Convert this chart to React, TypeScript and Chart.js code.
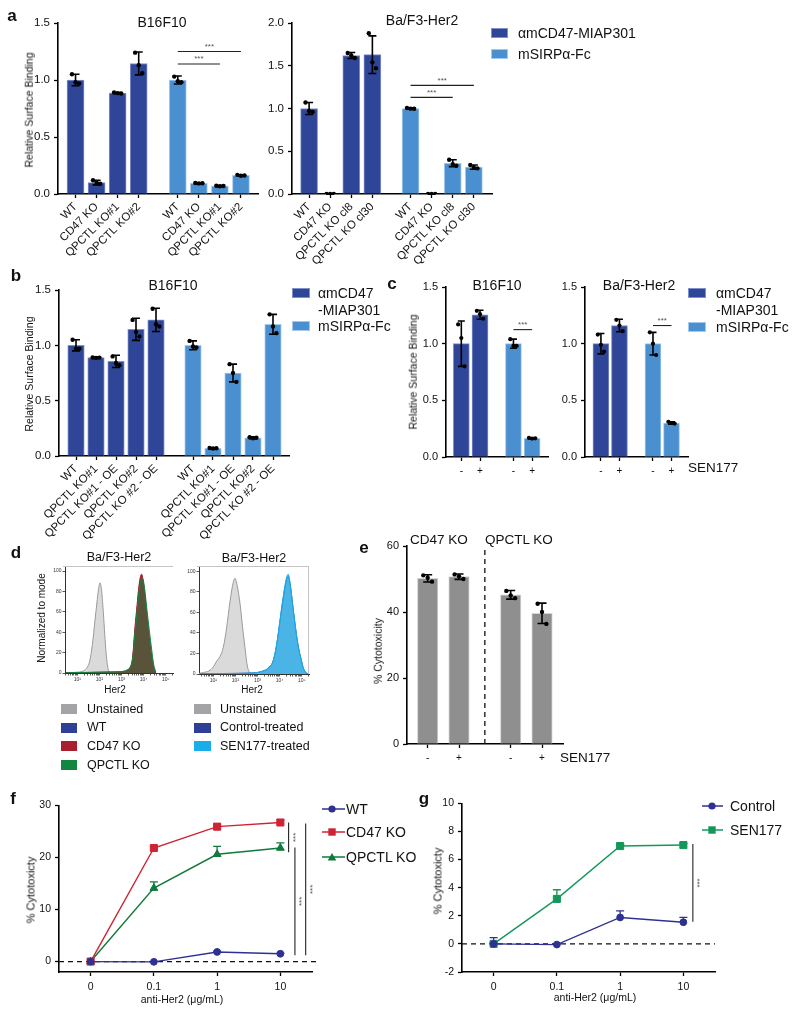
import React, { useEffect, useRef } from "react";
import { Chart, registerables } from "chart.js";

Chart.register(...registerables);

const FONT = "'Liberation Sans', Arial, Helvetica, sans-serif";
Chart.defaults.font.family = FONT;
Chart.defaults.color = "#111";

/* ---------------- colours ---------------- */
const NAVY = "#2f4597";
const NAVY_EDGE = "#7f90cc";
const SKY = "#4a8fd0";
const SKY_EDGE = "#a3c9ee";
const GREY_BAR = "#8f8f8f";
const GREY_EDGE = "#d4d4d4";
const L_BLUE = "#2e3192";
const L_RED = "#cf2436";
const L_GREEN = "#0f7a3c";
const L_GREEN2 = "#14985a";
const F_GREY_LINE = "#9a9a9c";
const F_GREY_FILL = "#dadadb";
const F_BLUE = "#2e3f96";
const F_RED = "#a8202d";
const F_GREEN = "#128540";
const F_CYAN = "#19aeea";

/* ---------------- panel a data ---------------- */
const aB16Labels = ["WT", "CD47 KO", "QPCTL KO#1", "QPCTL KO#2"];
const aB16Miap = [1.0, 0.1, 0.885, 1.145];
const aB16MiapErr = [0.05, 0.02, 0.004, 0.1];
const aB16MiapPts = [[1.05, 0.98, 0.97], [0.12, 0.1, 0.09], [0.89, 0.885, 0.882], [1.24, 1.13, 1.06]];
const aB16Sirp = [1.0, 0.094, 0.07, 0.163];
const aB16SirpErr = [0.035, 0.004, 0.004, 0.006];
const aB16SirpPts = [[1.03, 0.99, 0.98], [0.096, 0.093, 0.094], [0.072, 0.068, 0.07], [0.168, 0.16, 0.162]];
const aB16Sig = [{ from: 4, to: 7, y: 1.25 }, { from: 4, to: 6, y: 1.14 }];

const aBaLabels = ["WT", "CD47 KO", "QPCTL KO cl8", "QPCTL KO cl30"];
const aBaMiap = [1.0, 0.0, 1.62, 1.63];
const aBaMiapErr = [0.07, 0.003, 0.035, 0.22];
const aBaMiapPts = [[1.07, 0.97, 0.96], [0, 0, 0], [1.65, 1.62, 1.59], [1.88, 1.54, 1.47]];
const aBaSirp = [1.0, 0.0, 0.36, 0.315];
const aBaSirpErr = [0.008, 0.003, 0.04, 0.025];
const aBaSirpPts = [[1.005, 0.998, 0.997], [0, 0, 0], [0.4, 0.35, 0.33], [0.34, 0.31, 0.3]];
const aBaSig = [{ from: 4, to: 7, y: 1.27 }, { from: 4, to: 6, y: 1.13 }];

/* ---------------- panel b data ---------------- */
const bLabels = ["WT", "QPCTL KO#1", "QPCTL KO#1 - OE", "QPCTL KO#2", "QPCTL KO #2 - OE"];
const bMiap = [1.0, 0.89, 0.855, 1.145, 1.23];
const bMiapErr = [0.05, 0.004, 0.055, 0.1, 0.105];
const bMiapPts = [[1.05, 0.97, 0.97], [0.89, 0.886, 0.889], [0.9, 0.84, 0.82], [1.23, 1.12, 1.08], [1.33, 1.19, 1.17]];
const bSirp = [1.0, 0.07, 0.75, 0.165, 1.19];
const bSirpErr = [0.04, 0.004, 0.08, 0.008, 0.09];
const bSirpPts = [[1.04, 0.99, 0.98], [0.072, 0.068, 0.07], [0.83, 0.75, 0.67], [0.17, 0.16, 0.165], [1.28, 1.17, 1.11]];

/* ---------------- panel c data ---------------- */
const cTreat = ["-", "+", "-", "+"];
const cB16Miap = [1.0, 1.255];
const cB16MiapErr = [0.2, 0.04];
const cB16MiapPts = [[1.17, 1.05, 0.8], [1.29, 1.26, 1.22]];
const cB16Sirp = [1.0, 0.165];
const cB16SirpErr = [0.04, 0.005];
const cB16SirpPts = [[1.04, 0.98, 0.98], [0.168, 0.163, 0.165]];
const cB16Sig = [{ from: 2, to: 3, y: 1.124 }];
const cBaMiap = [1.0, 1.16];
const cBaMiapErr = [0.09, 0.055];
const cBaMiapPts = [[1.08, 0.99, 0.93], [1.21, 1.16, 1.11]];
const cBaSirp = [1.0, 0.3];
const cBaSirpErr = [0.1, 0.01];
const cBaSirpPts = [[1.1, 1.0, 0.9], [0.31, 0.3, 0.295]];
const cBaSig = [{ from: 2, to: 3, y: 1.16 }];

/* ---------------- panel d data (flow histograms, x = log10 Her2) ---------------- */
const dUnst1X = [0.5, 1.0, 1.2, 1.35, 1.46, 1.57, 1.68, 1.8, 1.9, 1.97, 2.03, 2.1, 2.18, 2.24, 2.3, 2.36, 2.42, 2.55];
const dUnst1Y = [0.3, 0.8, 1.5, 3, 6, 12.7, 28, 52, 72, 84, 88.5, 80, 58, 38, 19.6, 8, 2, 0];
const dKOX = [0.5, 1.5, 2.5, 3.0, 3.25, 3.38, 3.5, 3.61, 3.7, 3.78, 3.86, 3.91, 3.97, 4.05, 4.14, 4.25, 4.37, 4.45, 4.55];
const dWT = [0.3, 0.5, 0.8, 1.2, 2.5, 5, 14, 42, 62, 80, 92, 94, 90, 78, 58, 36, 16, 6, 0];
const dCD47 = [0.3, 0.5, 0.8, 1.2, 2.5, 5, 15, 45, 66, 84, 95, 97, 92, 78, 57, 34, 14, 5, 0];
const dQPCTL = [0.3, 0.6, 1.0, 1.5, 3, 5.5, 13, 40, 60, 78, 89, 93, 92, 82, 64, 43, 22, 9, 1];
const dUnst2X = [0.35, 0.55, 0.8, 1.0, 1.15, 1.3, 1.45, 1.6, 1.75, 1.9, 1.98, 2.08, 2.21, 2.32, 2.43, 2.52, 2.6, 2.75];
const dUnst2Y = [0.5, 1.5, 3, 7, 12.5, 17, 26, 45, 70, 89, 93, 86, 68, 46, 26, 10, 3, 0];
const dTrtX = [0.4, 1.5, 2.5, 3.0, 3.26, 3.5, 3.71, 3.88, 4.02, 4.14, 4.24, 4.33, 4.39, 4.47, 4.62, 4.75, 4.85, 5.0, 5.07, 5.2, 5.3];
const dCtrl = [0.3, 0.5, 0.8, 1.5, 3, 6, 13, 30, 52, 70, 84, 93, 95, 88, 62, 40, 26, 12, 6, 1, 0];
const dSEN = [0.3, 0.5, 0.8, 1.5, 3, 6, 13, 31, 53, 72, 86, 95, 97, 89, 62, 40, 26, 12, 6, 1, 0];
const dDecadeLabels = ["10¹", "10²", "10³", "10⁴", "10⁵"];

/* ---------------- panel e data ---------------- */
const eTreat = ["-", "+", "-", "+"];
const eCD47 = [50.2, 50.7];
const eCD47Err = [1.1, 0.8];
const eCD47Pts = [[51.1, 50.4, 49.2], [51.4, 50.8, 50.0]];
const eQPCTL = [45.2, 39.6];
const eQPCTLErr = [1.3, 3.1];
const eQPCTLPts = [[46.4, 45.0, 44.2], [42.5, 40.0, 36.4]];

/* ---------------- panel f / g data ---------------- */
const doseLabels = ["0", "0.1", "1", "10"];
const fWT = [0, -0.05, 1.85, 1.5];
const fWTErr = [0, 0, 0.15, 0.12];
const fCD47 = [0, 21.8, 25.9, 26.7];
const fCD47Err = [0, 0.25, 0.3, 0.5];
const fQPCTL = [0, 14.1, 20.6, 21.8];
const fQPCTLErr = [0, 1.2, 1.5, 1.0];
const fYTicks = [0, 10, 20, 30];
const gControl = [0, -0.05, 1.88, 1.54];
const gControlErr = [0.45, 0.05, 0.47, 0.34];
const gSEN = [0, 3.2, 6.96, 7.03];
const gSENErr = [0.08, 0.65, 0.1, 0.12];
const gYTicks = [-2, 0, 2, 4, 6, 8, 10];

/* ---------------- annotation plugin (error bars, significance, dashed lines) ---------------- */
function annot(a: any) {
  const valAt = (chart: any, ds: number, i: number) => {
    const d = chart.data.datasets[ds].data[i];
    return typeof d === "number" ? d : d.y;
  };
  const drawErr = (chart: any, e: any) => {
    const meta = chart.getDatasetMeta(e.ds);
    const ys = chart.scales.y;
    const ctx = chart.ctx;
    ctx.save();
    ctx.strokeStyle = e.color;
    ctx.lineWidth = e.lw;
    meta.data.forEach((el: any, i: number) => {
      const d = e.err[i];
      if (!d) return;
      const v = valAt(chart, e.ds, i);
      const x = el.x;
      const yt = ys.getPixelForValue(v + d);
      const yb = ys.getPixelForValue(e.up ? v : v - d);
      ctx.beginPath();
      ctx.moveTo(x, yt);
      ctx.lineTo(x, yb);
      ctx.moveTo(x - e.cap, yt);
      ctx.lineTo(x + e.cap, yt);
      if (!e.up) {
        ctx.moveTo(x - e.cap, yb);
        ctx.lineTo(x + e.cap, yb);
      }
      ctx.stroke();
    });
    ctx.restore();
  };
  return {
    id: "annot",
    beforeDatasetsDraw(chart: any) {
      const { ctx, chartArea: ca, scales } = chart;
      ctx.save();
      if (a.zero) {
        const py = scales.y.getPixelForValue(0);
        ctx.strokeStyle = "#111";
        ctx.lineWidth = 1.4;
        ctx.setLineDash([5, 4]);
        ctx.beginPath();
        ctx.moveTo(ca.left, py);
        ctx.lineTo(ca.right + a.zero.extend, py);
        ctx.stroke();
      }
      if (a.vdash !== undefined) {
        const px = scales.x.getPixelForValue(a.vdash);
        ctx.strokeStyle = "#111";
        ctx.lineWidth = 1.3;
        ctx.setLineDash([5, 4]);
        ctx.beginPath();
        ctx.moveTo(px, scales.y.getPixelForValue(0));
        ctx.lineTo(px, ca.top + 1);
        ctx.stroke();
      }
      ctx.restore();
      (a.errs || []).filter((e: any) => e.under).forEach((e: any) => drawErr(chart, e));
    },
    afterDatasetDraw(chart: any, args: any) {
      (a.errs || []).filter((e: any) => !e.under && e.ds === args.index).forEach((e: any) => drawErr(chart, e));
    },
    afterDraw(chart: any) {
      const { ctx, chartArea: ca, scales } = chart;
      const x = scales.x;
      const y = scales.y;
      ctx.save();
      (a.hsig || []).forEach((q: any) => {
        const p1 = x.getPixelForValue(q.x1);
        const p2 = x.getPixelForValue(q.x2);
        const py = y.getPixelForValue(q.y);
        ctx.strokeStyle = "#222";
        ctx.lineWidth = 1.1;
        ctx.beginPath();
        ctx.moveTo(p1, py);
        ctx.lineTo(p2, py);
        ctx.stroke();
        ctx.fillStyle = "#555";
        ctx.font = `8px ${FONT}`;
        ctx.textAlign = "center";
        ctx.textBaseline = "bottom";
        ctx.fillText(q.label, (p1 + p2) / 2, py - 1);
      });
      (a.vsig || []).forEach((q: any) => {
        const px = x.getPixelForValue(q.x);
        const p1 = y.getPixelForValue(q.y1);
        const p2 = y.getPixelForValue(q.y2);
        ctx.strokeStyle = "#222";
        ctx.lineWidth = 1.1;
        ctx.beginPath();
        ctx.moveTo(px, p1);
        ctx.lineTo(px, p2);
        ctx.stroke();
        ctx.save();
        ctx.translate(px + 6, (p1 + p2) / 2);
        ctx.rotate(-Math.PI / 2);
        ctx.fillStyle = "#555";
        ctx.font = `8px ${FONT}`;
        ctx.textAlign = "center";
        ctx.textBaseline = "middle";
        ctx.fillText(q.label, 0, 1);
        ctx.restore();
      });
      if (a.frame) {
        ctx.strokeStyle = a.frame.color;
        ctx.lineWidth = 1;
        ctx.beginPath();
        if (a.frame.sides.includes("top")) {
          ctx.moveTo(ca.left - 2, ca.top + 0.5);
          ctx.lineTo(ca.right, ca.top + 0.5);
        }
        if (a.frame.sides.includes("right")) {
          ctx.moveTo(ca.right - 0.5, ca.top);
          ctx.lineTo(ca.right - 0.5, ca.bottom);
        }
        ctx.stroke();
      }
      ctx.restore();
    },
  };
}

/* ---------------- shared axis styling ---------------- */
function axis(font: number, pad: number, tickLen = 4) {
  return {
    grid: { display: true, drawOnChartArea: false, drawTicks: true, tickLength: tickLen, tickWidth: 1.3, tickColor: "#000", color: "#000", offset: false },
    border: { display: true, color: "#000", width: 1.6 },
    ticks: { font: { size: font }, padding: pad, color: "#111", autoSkip: false },
  };
}

/* ---------------- bar chart config ---------------- */
function barConfig(s: any) {
  const groupXs: number[][] = [];
  const pos: number[] = [];
  let start = 0;
  s.groups.forEach((g: any, gi: number) => {
    if (gi > 0) start = pos[pos.length - 1] + s.groupStep;
    const xs = g.values.map((_: number, i: number) => start + i);
    groupXs.push(xs);
    pos.push(...xs);
  });
  const dots: any[] = [];
  s.groups.forEach((g: any, gi: number) =>
    g.pts.forEach((arr: number[], i: number) =>
      arr.forEach((v, k) => dots.push({ x: groupXs[gi][i] + (k - (arr.length - 1) / 2) * s.jitter, y: v }))
    )
  );
  const datasets: any[] = [
    { type: "scatter", label: "replicates", data: dots, pointRadius: s.dotR, pointBackgroundColor: "#000", pointBorderColor: "#000", pointBorderWidth: 0, order: 1 },
  ];
  const errs: any[] = [];
  s.groups.forEach((g: any, gi: number) => {
    datasets.push({
      type: "bar",
      label: g.label,
      data: g.values.map((v: number, i: number) => ({ x: groupXs[gi][i], y: v })),
      backgroundColor: g.fill,
      borderColor: g.edge,
      borderWidth: 1,
      borderSkipped: "bottom",
      barThickness: s.barW,
      grouped: false,
      order: 2,
    });
    errs.push({ ds: datasets.length - 1, err: g.err, cap: s.cap, lw: 1.6, color: "#000" });
  });
  const hsig = (s.sig || []).map((q: any) => ({ x1: pos[q.from], x2: pos[q.to], y: q.y, label: "***" }));
  const vdash = s.divider ? (groupXs[0][groupXs[0].length - 1] + groupXs[1][0]) / 2 : undefined;
  const yTicks: number[] = [];
  for (let v = 0; v <= s.ymax + 1e-9; v += s.ystep) yTicks.push(v);
  const ax = axis(s.xFont, s.xPad);
  const ay = axis(s.yFont, 4);
  return {
    type: "bar",
    data: { datasets },
    options: {
      scales: {
        x: {
          type: "linear",
          offset: false,
          min: s.xmin,
          max: s.xmax,
          afterBuildTicks: (sc: any) => {
            sc.ticks = pos.map((v) => ({ value: v }));
          },
          ...ax,
          ticks: { ...ax.ticks, maxRotation: s.rot, minRotation: s.rot, callback: (_v: any, i: number) => s.tickLabels[i] },
        },
        y: {
          type: "linear",
          min: 0,
          max: s.ymax,
          afterBuildTicks: (sc: any) => {
            sc.ticks = yTicks.map((v) => ({ value: v }));
          },
          ...ay,
          ticks: { ...ay.ticks, callback: (v: any) => Number(v).toFixed(s.dec) },
        },
      },
    },
    plugins: [annot({ errs, hsig, vdash })],
  };
}

/* ---------------- line chart config ---------------- */
function lineConfig(series: any[], yMin: number, yMax: number, yTicks: number[], vsig: any[], zeroExtend: number) {
  const datasets = series.map((s, i) => ({
    label: s.label,
    data: s.values,
    borderColor: s.color,
    backgroundColor: s.color,
    pointBackgroundColor: s.color,
    pointBorderColor: s.color,
    pointStyle: s.shape,
    pointRadius: s.r,
    pointBorderWidth: 1,
    borderWidth: 1.4,
    tension: 0,
    order: i,
  }));
  const errs = series.map((s, i) => ({ ds: i, err: s.err, up: true, cap: 4, lw: 1.3, color: s.color, under: true }));
  const ax = axis(10.5, 5, 4);
  const ay = axis(10.5, 4, 4);
  return {
    type: "line",
    data: { labels: doseLabels, datasets },
    options: {
      scales: {
        x: { type: "category", offset: true, ...ax, ticks: { ...ax.ticks, maxRotation: 0 } },
        y: {
          type: "linear",
          min: yMin,
          max: yMax,
          afterBuildTicks: (sc: any) => {
            sc.ticks = yTicks.map((v) => ({ value: v }));
          },
          ...ay,
        },
      },
    },
    plugins: [annot({ errs, vsig, zero: { extend: zeroExtend } })],
  };
}

/* ---------------- flow histogram config ---------------- */
function flowConfig(curves: any[], xmin: number, xmax: number, sides: string[]) {
  const tks: number[] = [];
  for (let d = 0; d <= 5; d++)
    for (let k = 1; k <= 9; k++) {
      const v = d + Math.log10(k);
      if (v >= xmin && v <= xmax) tks.push(v);
    }
  const isMajor = (v: number) => Math.abs(v - Math.round(v)) < 1e-6 && Math.round(v) >= 1;
  return {
    type: "line",
    data: {
      datasets: curves.map((c) => ({
        label: c.label,
        data: c.x.map((xv: number, i: number) => ({ x: xv, y: c.y[i] })),
        borderColor: c.line,
        backgroundColor: c.fill,
        fill: "origin",
        pointRadius: 0,
        borderWidth: 1,
        cubicInterpolationMode: "monotone",
        order: c.order,
      })),
    },
    options: {
      scales: {
        x: {
          type: "linear",
          min: xmin,
          max: xmax,
          afterBuildTicks: (sc: any) => {
            sc.ticks = tks.map((v) => ({ value: v }));
          },
          grid: { display: true, drawOnChartArea: false, tickLength: 2.5, tickWidth: 0.8, tickColor: "#333", offset: false },
          border: { display: true, color: "#333", width: 1 },
          ticks: { autoSkip: false, maxRotation: 0, font: { size: 5 }, padding: 1, color: "#333", callback: (v: any) => (isMajor(v) ? dDecadeLabels[Math.round(v) - 1] : "") },
        },
        y: {
          type: "linear",
          min: 0,
          max: 105,
          afterBuildTicks: (sc: any) => {
            sc.ticks = [0, 20, 40, 60, 80, 100].map((v) => ({ value: v }));
          },
          grid: { display: true, drawOnChartArea: false, tickLength: 2.5, tickWidth: 0.8, tickColor: "#333" },
          border: { display: true, color: "#333", width: 1 },
          ticks: { font: { size: 5 }, padding: 1, color: "#333" },
        },
      },
    },
    plugins: [annot({ frame: { sides, color: "#c4c4c4" } })],
  };
}

/* ---------------- chart host ---------------- */
function ChartBox({ area, m, make }: { area: number[]; m: number[]; make: () => any }) {
  const [x0, y0, x1, y1] = area;
  const [l, t, r, b] = m;
  const w = x1 - x0 + l + r;
  const h = y1 - y0 + t + b;
  const ref = useRef<HTMLCanvasElement | null>(null);
  useEffect(() => {
    const cfg = make();
    const o = cfg.options;
    o.responsive = false;
    o.animation = false;
    o.devicePixelRatio = 1;
    o.events = [];
    o.layout = { padding: { left: 0, top: t, right: r, bottom: 0 } };
    o.scales.x.afterFit = (s: any) => {
      s.height = b;
    };
    o.scales.y.afterFit = (s: any) => {
      s.width = l;
    };
    o.plugins = { legend: { display: false }, tooltip: { enabled: false } };
    const chart = new Chart(ref.current as HTMLCanvasElement, cfg);
    return () => chart.destroy();
  }, []);
  return <canvas ref={ref} width={w} height={h} style={{ position: "absolute", left: x0 - l, top: y0 - t, width: w, height: h }} />;
}

/* ---------------- text helpers ---------------- */
function T({ x, y, s, size = 13, bold = false, align = "left", rot = 0, color = "#111" }: any) {
  const tx = align === "center" ? "-50%" : align === "right" ? "-100%" : "0";
  return (
    <div
      style={{
        position: "absolute",
        left: x,
        top: y,
        transform: `translate(${tx}, -50%) rotate(${rot}deg)`,
        fontSize: size,
        fontWeight: bold ? 700 : 400,
        lineHeight: 1,
        whiteSpace: "nowrap",
        color,
        fontFamily: FONT,
      }}
    >
      {s}
    </div>
  );
}
function Sq({ x, y, w, h, c, e }: any) {
  return <div style={{ position: "absolute", left: x, top: y, width: w, height: h, background: c, boxSizing: "border-box", border: e ? `1px solid ${e}` : "none" }} />;
}
function LineKey({ x1, x2, mx, y, color, shape, label, tx, size = 14 }: any) {
  const c = mx - x1;
  return (
    <>
      <svg style={{ position: "absolute", left: x1, top: y - 6, overflow: "visible" }} width={x2 - x1} height={12}>
        <line x1={0} y1={6} x2={x2 - x1} y2={6} stroke={color} strokeWidth={1.5} />
        {shape === "circle" && <circle cx={c} cy={6} r={3.6} fill={color} />}
        {shape === "square" && <rect x={c - 3.7} y={2.3} width={7.4} height={7.4} fill={color} />}
        {shape === "triangle" && <polygon points={`${c - 4.3},9.6 ${c + 4.3},9.6 ${c},2`} fill={color} />}
      </svg>
      <T x={tx} y={y} s={label} size={size} />
    </>
  );
}

/* ---------------- chart factories ---------------- */
const makeAB16 = () =>
  barConfig({
    groups: [
      { label: "αmCD47-MIAP301", values: aB16Miap, err: aB16MiapErr, pts: aB16MiapPts, fill: NAVY, edge: NAVY_EDGE },
      { label: "mSIRPα-Fc", values: aB16Sirp, err: aB16SirpErr, pts: aB16SirpPts, fill: SKY, edge: SKY_EDGE },
    ],
    tickLabels: [...aB16Labels, ...aB16Labels],
    groupStep: 1.857, xmin: -0.833, xmax: 8.667, ymax: 1.5, ystep: 0.5, dec: 1,
    barW: 17, cap: 4, jitter: 0.17, dotR: 2.2, rot: 45, xFont: 11.5, yFont: 11.5, xPad: 2, sig: aB16Sig,
  });
const makeABa = () =>
  barConfig({
    groups: [
      { label: "αmCD47-MIAP301", values: aBaMiap, err: aBaMiapErr, pts: aBaMiapPts, fill: NAVY, edge: NAVY_EDGE },
      { label: "mSIRPα-Fc", values: aBaSirp, err: aBaSirpErr, pts: aBaSirpPts, fill: SKY, edge: SKY_EDGE },
    ],
    tickLabels: [...aBaLabels, ...aBaLabels],
    groupStep: 1.81, xmin: -0.81, xmax: 8.67, ymax: 2.0, ystep: 0.5, dec: 1,
    barW: 17, cap: 4, jitter: 0.17, dotR: 2.2, rot: 45, xFont: 11.5, yFont: 11.5, xPad: 2, sig: aBaSig,
  });
const makeB = () =>
  barConfig({
    groups: [
      { label: "αmCD47-MIAP301", values: bMiap, err: bMiapErr, pts: bMiapPts, fill: NAVY, edge: NAVY_EDGE },
      { label: "mSIRPα-Fc", values: bSirp, err: bSirpErr, pts: bSirpPts, fill: SKY, edge: SKY_EDGE },
    ],
    tickLabels: [...bLabels, ...bLabels],
    groupStep: 1.85, xmin: -0.85, xmax: 10.65, ymax: 1.5, ystep: 0.5, dec: 1,
    barW: 16.5, cap: 4, jitter: 0.17, dotR: 2.2, rot: 45, xFont: 11.5, yFont: 11.5, xPad: 2, sig: [],
  });
const makeCB16 = () =>
  barConfig({
    groups: [
      { label: "αmCD47-MIAP301", values: cB16Miap, err: cB16MiapErr, pts: cB16MiapPts, fill: NAVY, edge: NAVY_EDGE },
      { label: "mSIRPα-Fc", values: cB16Sirp, err: cB16SirpErr, pts: cB16SirpPts, fill: SKY, edge: SKY_EDGE },
    ],
    tickLabels: cTreat,
    groupStep: 1.79, xmin: -0.82, xmax: 4.64, ymax: 1.5, ystep: 0.5, dec: 1,
    barW: 16, cap: 3.5, jitter: 0.17, dotR: 2.1, rot: 0, xFont: 10, yFont: 11, xPad: 4, sig: cB16Sig,
  });
const makeCBa = () =>
  barConfig({
    groups: [
      { label: "αmCD47-MIAP301", values: cBaMiap, err: cBaMiapErr, pts: cBaMiapPts, fill: NAVY, edge: NAVY_EDGE },
      { label: "mSIRPα-Fc", values: cBaSirp, err: cBaSirpErr, pts: cBaSirpPts, fill: SKY, edge: SKY_EDGE },
    ],
    tickLabels: cTreat,
    groupStep: 1.81, xmin: -0.86, xmax: 4.7, ymax: 1.5, ystep: 0.5, dec: 1,
    barW: 16, cap: 3.5, jitter: 0.17, dotR: 2.1, rot: 0, xFont: 10, yFont: 11, xPad: 4, sig: cBaSig,
  });
const makeE = () =>
  barConfig({
    groups: [
      { label: "CD47 KO", values: eCD47, err: eCD47Err, pts: eCD47Pts, fill: GREY_BAR, edge: GREY_EDGE },
      { label: "QPCTL KO", values: eQPCTL, err: eQPCTLErr, pts: eQPCTLPts, fill: GREY_BAR, edge: GREY_EDGE },
    ],
    tickLabels: eTreat,
    groupStep: 1.65, xmin: -0.66, xmax: 4.32, ymax: 60, ystep: 20, dec: 0,
    barW: 20.5, cap: 4.5, jitter: 0.14, dotR: 2.2, rot: 0, xFont: 10, yFont: 11, xPad: 4, sig: [], divider: true,
  });
const makeF = () =>
  lineConfig(
    [
      { label: "WT", values: fWT, err: fWTErr, color: L_BLUE, shape: "circle", r: 3.4 },
      { label: "CD47 KO", values: fCD47, err: fCD47Err, color: L_RED, shape: "rect", r: 5 },
      { label: "QPCTL KO", values: fQPCTL, err: fQPCTLErr, color: L_GREEN, shape: "triangle", r: 4.5 },
    ],
    -2, 30, fYTicks,
    [
      { x: 3.13, y1: 26.7, y2: 21.0, label: "***" },
      { x: 3.23, y1: 21.9, y2: 1.2, label: "***" },
      { x: 3.4, y1: 26.5, y2: 1.2, label: "***" },
    ],
    5
  );
const makeG = () =>
  lineConfig(
    [
      { label: "Control", values: gControl, err: gControlErr, color: L_BLUE, shape: "circle", r: 3.4 },
      { label: "SEN177", values: gSEN, err: gSENErr, color: L_GREEN2, shape: "rect", r: 5 },
    ],
    -2, 10, gYTicks,
    [{ x: 3.15, y1: 7.1, y2: 1.57, label: "***" }],
    0
  );
const makeD1 = () =>
  flowConfig(
    [
      { label: "QPCTL KO", x: dKOX, y: dQPCTL, line: F_GREEN, fill: "rgba(18,133,64,0.5)", order: 0 },
      { label: "CD47 KO", x: dKOX, y: dCD47, line: F_RED, fill: "rgba(168,32,45,0.95)", order: 1 },
      { label: "WT", x: dKOX, y: dWT, line: F_BLUE, fill: "rgba(46,63,150,0.9)", order: 2 },
      { label: "Unstained", x: dUnst1X, y: dUnst1Y, line: F_GREY_LINE, fill: F_GREY_FILL, order: 3 },
    ],
    0.44, 5.33, ["top"]
  );
const makeD2 = () =>
  flowConfig(
    [
      { label: "SEN177-treated", x: dTrtX, y: dSEN, line: F_CYAN, fill: "rgba(25,174,234,0.7)", order: 0 },
      { label: "Control-treated", x: dTrtX, y: dCtrl, line: F_BLUE, fill: "rgba(46,63,150,0.3)", order: 1 },
      { label: "Unstained", x: dUnst2X, y: dUnst2Y, line: F_GREY_LINE, fill: F_GREY_FILL, order: 2 },
    ],
    0.35, 5.33, ["top", "right"]
  );

/* ---------------- app ---------------- */
export default function App() {
  const yTitle = 10.5;
  return (
    <div style={{ position: "absolute", left: 0, top: 0, width: 800, height: 1015, overflow: "hidden", background: "#fff", fontFamily: FONT, color: "#111" }}>
      {/* panel a */}
      <ChartBox area={[58, 23, 258, 194]} m={[50, 12, 8, 80]} make={makeAB16} />
      <ChartBox area={[292, 23, 492, 194]} m={[40, 12, 8, 80]} make={makeABa} />
      <T x={12} y={15} s="a" size={17} bold align="center" />
      <T x={162} y={22} s="B16F10" size={14} align="center" />
      <T x={422} y={20} s="Ba/F3-Her2" size={14} align="center" />
      <T x={29} y={110} s="Relative Surface Binding" size={yTitle} align="center" rot={-90} />
      <Sq x={491} y={28} w={17} h={10} c={NAVY} e={NAVY_EDGE} />
      <Sq x={491} y={49} w={17} h={10} c={SKY} e={SKY_EDGE} />
      <T x={518} y={33} s="αmCD47-MIAP301" size={14} />
      <T x={518} y={54} s="mSIRPα-Fc" size={14} />

      {/* panel b */}
      <ChartBox area={[59, 290, 289, 456]} m={[50, 12, 8, 95]} make={makeB} />
      <T x={16} y={275} s="b" size={17} bold align="center" />
      <T x={173} y={285} s="B16F10" size={14} align="center" />
      <T x={29} y={374} s="Relative Surface Binding" size={yTitle} align="center" rot={-90} />
      <Sq x={292} y={288} w={18} h={10} c={NAVY} e={NAVY_EDGE} />
      <Sq x={292} y={321} w={18} h={10} c={SKY} e={SKY_EDGE} />
      <T x={318} y={293} s="αmCD47" size={14} />
      <T x={318} y={310} s="-MIAP301" size={14} />
      <T x={318} y={326} s="mSIRPα-Fc" size={14} />

      {/* panel c */}
      <ChartBox area={[446, 287, 548, 457]} m={[35, 12, 6, 25]} make={makeCB16} />
      <ChartBox area={[585, 287, 688, 457]} m={[35, 12, 6, 25]} make={makeCBa} />
      <T x={392} y={283} s="c" size={17} bold align="center" />
      <T x={497} y={285} s="B16F10" size={14} align="center" />
      <T x={639} y={285} s="Ba/F3-Her2" size={14} align="center" />
      <T x={413} y={372} s="Relative Surface Binding" size={yTitle} align="center" rot={-90} />
      <Sq x={688} y={288} w={18} h={10} c={NAVY} e={NAVY_EDGE} />
      <Sq x={688} y={322} w={18} h={10} c={SKY} e={SKY_EDGE} />
      <T x={716} y={293} s="αmCD47" size={14} />
      <T x={716} y={310} s="-MIAP301" size={14} />
      <T x={716} y={327} s="mSIRPα-Fc" size={14} />
      <T x={688} y={468} s="SEN177" size={13.5} />

      {/* panel d */}
      <ChartBox area={[65, 566, 173, 673]} m={[12, 4, 4, 12]} make={makeD1} />
      <ChartBox area={[199, 566, 309, 674]} m={[12, 4, 4, 12]} make={makeD2} />
      <T x={16} y={552} s="d" size={17} bold align="center" />
      <T x={119} y={557} s="Ba/F3-Her2" size={12.5} align="center" />
      <T x={254} y={558} s="Ba/F3-Her2" size={12.5} align="center" />
      <T x={42} y={618} s="Normalized to mode" size={10} align="center" rot={-90} />
      <T x={115} y={690} s="Her2" size={10} align="center" />
      <T x={252} y={690} s="Her2" size={10} align="center" />
      <Sq x={61} y={704} w={16} h={10} c="#a4a4a6" />
      <Sq x={61} y={723} w={16} h={10} c={F_BLUE} />
      <Sq x={61} y={741} w={16} h={10} c={F_RED} />
      <Sq x={61} y={760} w={16} h={10} c={F_GREEN} />
      <T x={87} y={709} s="Unstained" size={12.5} />
      <T x={87} y={727} s="WT" size={12.5} />
      <T x={87} y={746} s="CD47 KO" size={12.5} />
      <T x={87} y={765} s="QPCTL KO" size={12.5} />
      <Sq x={194} y={704} w={17} h={10} c="#a4a4a6" />
      <Sq x={194} y={723} w={17} h={10} c={F_BLUE} />
      <Sq x={194} y={741} w={17} h={10} c={F_CYAN} />
      <T x={220} y={709} s="Unstained" size={12.5} />
      <T x={220} y={727} s="Control-treated" size={12.5} />
      <T x={220} y={746} s="SEN177-treated" size={12.5} />

      {/* panel e */}
      <ChartBox area={[407, 546, 563, 744]} m={[30, 12, 6, 25]} make={makeE} />
      <T x={364} y={547} s="e" size={17} bold align="center" />
      <T x={410} y={540} s="CD47 KO" size={13.5} />
      <T x={485} y={540} s="QPCTL KO" size={13.5} />
      <T x={378} y={651} s="% Cytotoxicity" size={10.5} align="center" rot={-90} />
      <T x={560} y={758} s="SEN177" size={13.5} />

      {/* panel f */}
      <ChartBox area={[59, 805, 312, 972]} m={[30, 10, 10, 22]} make={makeF} />
      <T x={13} y={798} s="f" size={17} bold align="center" />
      <T x={31} y={890} s="% Cytotoxicty" size={11} align="center" rot={-90} />
      <T x={182} y={999} s="anti-Her2 (μg/mL)" size={10.5} align="center" />
      <LineKey x1={322} x2={345} mx={332} y={809} color={L_BLUE} shape="circle" label="WT" tx={346} />
      <LineKey x1={322} x2={345} mx={332} y={832} color={L_RED} shape="square" label="CD47 KO" tx={346} />
      <LineKey x1={322} x2={345} mx={332} y={857} color={L_GREEN} shape="triangle" label="QPCTL KO" tx={346} />

      {/* panel g */}
      <ChartBox area={[462, 803, 715, 972]} m={[30, 10, 6, 22]} make={makeG} />
      <T x={424} y={798} s="g" size={17} bold align="center" />
      <T x={438} y={881} s="% Cytotoxicty" size={11} align="center" rot={-90} />
      <T x={595} y={997} s="anti-Her2 (μg/mL)" size={10.5} align="center" />
      <LineKey x1={702} x2={723} mx={712} y={806} color={L_BLUE} shape="circle" label="Control" tx={730} />
      <LineKey x1={702} x2={723} mx={712} y={830} color={L_GREEN2} shape="square" label="SEN177" tx={730} />
    </div>
  );
}
